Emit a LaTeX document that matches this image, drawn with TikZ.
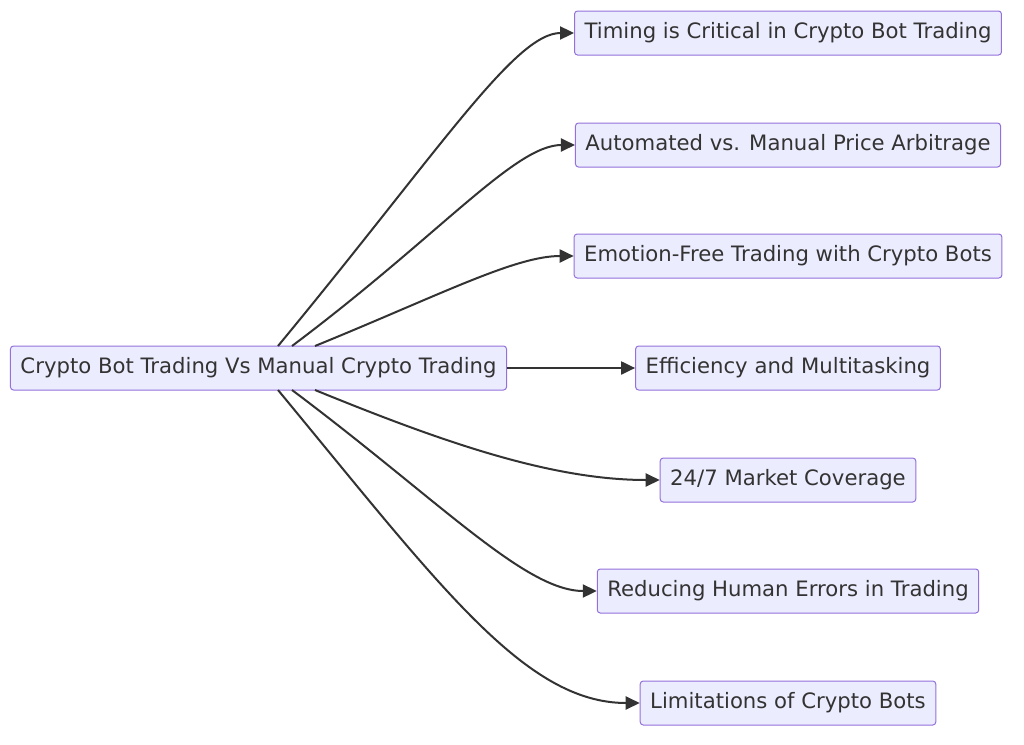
\documentclass[tikz,border=0pt]{standalone}
\usepackage{fontspec}
\setmainfont{DejaVu Sans}
\usetikzlibrary{arrows.meta}
\definecolor{nfill}{HTML}{ECECFF}
\definecolor{nline}{HTML}{9370DB}
\definecolor{ntext}{HTML}{333333}
\begin{document}
\begin{tikzpicture}[x=1pt,y=-1pt,
  box/.style={draw=nline,fill=nfill,line width=1pt,rounded corners=3pt,text=ntext,font=\fontsize{21.2}{24}\selectfont,minimum height=44pt,inner xsep=10pt},
  link/.style={draw=ntext,line width=2pt,-{Triangle[length=14pt,width=13pt]}}]
\useasboundingbox (0,0) rectangle (1024,744);
\node[box] (m) at (258.5,368) {Crypto Bot Trading Vs Manual Crypto Trading};
\node[box] (a) at (788,33) {Timing is Critical in Crypto Bot Trading};
\node[box] (b) at (788,145) {Automated vs. Manual Price Arbitrage};
\node[box] (c) at (788,256) {Emotion-Free Trading with Crypto Bots};
\node[box] (d) at (788,368) {Efficiency and Multitasking};
\node[box] (e) at (788,480) {24/7 Market Coverage};
\node[box] (f) at (788,591) {Reducing Human Errors in Trading};
\node[box] (g) at (788,703) {Limitations of Crypto Bots};
\coordinate (s1) at (278,346); \coordinate (s2) at (292,346); \coordinate (s3) at (315,346);
\coordinate (t1) at (278,390); \coordinate (t2) at (292,390); \coordinate (t3) at (315,390);
\draw[link] (s1) .. controls (440,150) and (515,33) .. (a.west);
\draw[link] (s2) .. controls (440,235) and (515,145) .. (b.west);
\draw[link] (s3) .. controls (440,295) and (515,256) .. (c.west);
\draw[link] (m.east) -- (d.west);
\draw[link] (t3) .. controls (440,441) and (550,480) .. (e.west);
\draw[link] (t2) .. controls (440,501) and (525,591) .. (f.west);
\draw[link] (t1) .. controls (440,586) and (525,703) .. (g.west);
\end{tikzpicture}
\end{document}
